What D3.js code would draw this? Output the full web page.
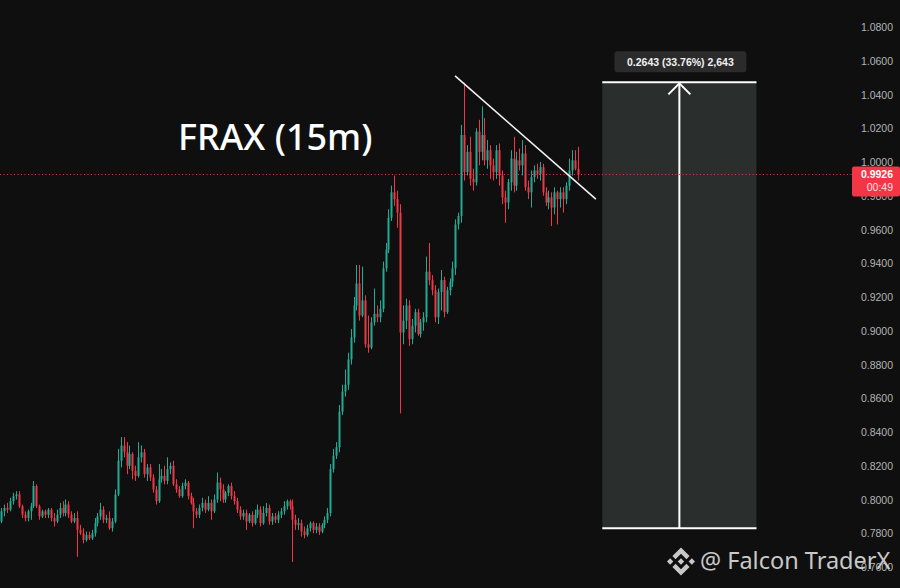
<!DOCTYPE html>
<html>
<head>
<meta charset="utf-8">
<script src="https://cdn.jsdelivr.net/npm/d3@7"></script>
<style>
  html, body { margin: 0; padding: 0; background: #0f0f0f; }
  svg { display: block; }
</style>
</head>
<body>
<svg id="chart" width="900" height="588"></svg>
<script>
// FRAX 15m candles (price in USD)
const opens = [
  .787,.793,.795,.794,.799,.802,.803,.796,.791,.789,
  .793,.796,.808,.796,.790,.793,.791,.794,.789,.787,
  .791,.795,.792,.797,.791,.787,.789,.782,.780,.776,
  .779,.777,.780,.786,.790,.794,.788,.789,.783,.787,
  .803,.823,.832,.828,.820,.827,.817,.814,.825,.828,
  .815,.819,.813,.806,.799,.812,.814,.811,.818,.820,
  .809,.806,.802,.808,.810,.802,.798,.793,.791,.795,
  .798,.794,.798,.793,.800,.810,.806,.800,.804,.808,
  .802,.799,.794,.790,.792,.787,.791,.786,.791,.794,
  .786,.792,.795,.787,.790,.788,.791,.793,.796,.799,
  .796,.788,.785,.786,.781,.779,.783,.786,.782,.784,
  .781,.785,.788,.792,.818,.826,.831,.852,.864,.868,
  .883,.896,.915,.928,.909,.918,.892,.890,.905,.910,
  .908,.913,.937,.948,.967,.982,.978,.970,.899,.906,
  .915,.895,.903,.911,.898,.905,.908,.935,.930,.924,
  .908,.923,.930,.911,.924,.929,.937,.963,.968,1.016,
  .994,1.006,.990,.988,1.018,1.006,1.016,1.001,1.007,.998,
  .994,1.007,.992,.979,.976,.988,1.002,.986,1.001,.998,
  1.005,.985,.982,.991,.995,.993,.997,.982,.976,.979,
  .973,.982,.978,.982,.978,.986,.995,1.001,.996
];
const highs = [
  .795,.797,.798,.801,.804,.805,.805,.797,.793,.794,
  .798,.811,.809,.797,.794,.794,.795,.795,.792,.794,
  .798,.799,.800,.799,.793,.792,.793,.785,.783,.781,
  .781,.782,.789,.792,.798,.796,.791,.793,.789,.806,
  .830,.837,.837,.834,.832,.828,.820,.834,.832,.830,
  .821,.821,.815,.808,.821,.818,.820,.825,.822,.823,
  .812,.808,.810,.812,.811,.804,.801,.795,.797,.801,
  .800,.802,.800,.803,.816,.813,.809,.805,.809,.810,
  .805,.801,.796,.794,.794,.792,.793,.794,.797,.796,
  .796,.798,.797,.792,.792,.793,.795,.799,.800,.800,
  .800,.791,.789,.788,.784,.785,.787,.787,.786,.786,
  .786,.790,.795,.821,.830,.834,.856,.868,.877,.887,
  .901,.920,.939,.939,.938,.921,.909,.908,.925,.915,
  .918,.941,.952,.972,.986,.992,.983,.975,.915,.919,
  .918,.907,.913,.913,.907,.911,.944,.952,.933,.927,
  .925,.936,.932,.926,.931,.941,.966,.970,1.022,1.047,
  1.010,1.015,.996,1.020,1.025,1.033,1.026,1.013,1.010,1.002,
  1.010,1.011,.995,.983,.990,1.007,1.015,1.006,1.008,1.013,
  1.010,.989,.995,.998,.999,1.000,.999,.985,.983,.982,
  .985,.983,.985,.985,.988,1.002,1.007,1.007,1.009
];
const lows = [
  .786,.790,.792,.793,.797,.800,.795,.789,.787,.787,
  .788,.795,.795,.788,.789,.789,.789,.787,.784,.786,
  .789,.790,.790,.789,.786,.786,.766,.779,.774,.775,
  .776,.776,.778,.784,.788,.786,.786,.782,.781,.786,
  .802,.819,.825,.815,.818,.812,.811,.813,.822,.813,
  .811,.811,.804,.797,.798,.810,.809,.809,.815,.808,
  .804,.801,.801,.806,.800,.797,.783,.789,.789,.793,
  .792,.793,.788,.792,.798,.799,.798,.798,.802,.800,
  .797,.792,.788,.788,.782,.786,.784,.785,.789,.784,
  .785,.790,.785,.785,.786,.786,.789,.791,.794,.794,
  .763,.782,.782,.778,.777,.778,.781,.780,.780,.779,
  .780,.783,.786,.790,.816,.824,.828,.850,.861,.865,
  .880,.893,.912,.906,.908,.890,.887,.889,.903,.905,
  .905,.911,.935,.946,.965,.974,.961,.851,.892,.901,
  .891,.892,.899,.897,.896,.900,.905,.927,.921,.905,
  .904,.912,.908,.910,.921,.926,.933,.960,.964,.989,
  .992,.986,.983,.986,.998,1.001,.998,.996,.990,.989,
  .990,.986,.975,.964,.972,.983,.982,.983,.995,.992,
  .983,.978,.973,.988,.990,.989,.980,.974,.972,.962,
  .969,.963,.973,.970,.975,.983,.992,.995,.989
];
const closes = [
  .793,.795,.794,.799,.802,.803,.796,.791,.789,.793,
  .796,.808,.796,.790,.793,.791,.794,.789,.787,.791,
  .795,.792,.797,.791,.787,.789,.782,.780,.776,.779,
  .777,.780,.786,.790,.794,.788,.789,.783,.787,.803,
  .823,.832,.828,.820,.827,.817,.814,.825,.828,.815,
  .819,.813,.806,.799,.812,.814,.811,.818,.820,.809,
  .806,.802,.808,.810,.802,.798,.793,.791,.795,.798,
  .794,.798,.793,.800,.810,.806,.800,.804,.808,.802,
  .799,.794,.790,.792,.787,.791,.786,.791,.794,.786,
  .792,.795,.787,.790,.788,.791,.793,.796,.799,.796,
  .788,.785,.786,.781,.779,.783,.786,.782,.784,.781,
  .785,.788,.792,.818,.826,.831,.852,.864,.868,.883,
  .896,.915,.928,.909,.918,.892,.890,.905,.910,.908,
  .913,.937,.948,.967,.982,.978,.970,.899,.906,.915,
  .895,.903,.911,.898,.905,.908,.935,.930,.924,.908,
  .923,.930,.911,.924,.929,.937,.963,.968,1.016,.994,
  1.006,.990,.988,1.018,1.006,1.016,1.001,1.007,.998,.994,
  1.007,.992,.979,.976,.988,1.002,.986,1.001,.998,1.005,
  .985,.982,.991,.995,.993,.997,.982,.976,.979,.973,
  .982,.978,.982,.978,.986,.995,1.001,.996,.9926
];

// Right price scale
const priceTicks = [0.76,0.78,0.80,0.82,0.84,0.86,0.88,0.90,0.92,0.94,0.96,0.98,1.00,1.02,1.04,1.06,1.08];
const lastPrice = 0.9926;
const countdown = "00:49";

// Descending trendline: [bar index, price]
const trendStart = [155.9, 1.051];
const trendEnd = [204.3, 0.978];

// Price range measurement: price bounds and bar span
const measureLow = 0.7829;
const measureHigh = 1.0472;
const measureBars = [206.5, 259.5];
const tickSize = 0.0001;

const title = "FRAX (15m)";
const watermark = "@ Falcon TraderX";

const UP = "#22ab94", DOWN = "#f23645";

const svg = d3.select("#chart");
svg.append("rect").attr("width", 900).attr("height", 588).attr("fill", "#0f0f0f");

const x = d3.scaleLinear().domain([-0.5, opens.length - 0.5]).range([0, 579]);
const y = d3.scaleLinear().domain([0.76, 1.08]).range([567, 27]);

// measurement box (behind candles' right side)
const mx0 = x(measureBars[0]), mx1 = x(measureBars[1]);
const myTop = y(measureHigh), myBot = y(measureLow);
const mg = svg.append("g");
mg.append("rect").attr("x", mx0).attr("y", myTop).attr("width", mx1 - mx0).attr("height", myBot - myTop)
  .attr("fill", "#2a2e2c");
mg.append("line").attr("x1", mx0).attr("x2", mx1).attr("y1", myTop).attr("y2", myTop)
  .attr("stroke", "#fff").attr("stroke-width", 2);
mg.append("line").attr("x1", mx0).attr("x2", mx1).attr("y1", myBot).attr("y2", myBot)
  .attr("stroke", "#fff").attr("stroke-width", 2);
const mcx = (mx0 + mx1) / 2;
mg.append("line").attr("x1", mcx).attr("x2", mcx).attr("y1", myBot).attr("y2", myTop + 1)
  .attr("stroke", "#fff").attr("stroke-width", 2);
mg.append("path").attr("d", `M${mcx - 11},${myTop + 12}L${mcx},${myTop + 1}L${mcx + 11},${myTop + 12}`)
  .attr("fill", "none").attr("stroke", "#fff").attr("stroke-width", 2);

const diff = measureHigh - measureLow;
const pct = diff / measureLow * 100;
const ticks = Math.round(diff / tickSize);
const mLabel = `${diff.toFixed(4)} (${pct.toFixed(2)}%) ${d3.format(",")(ticks)}`;
const lw = 132, lh = 21;
mg.append("rect").attr("x", mcx + 1 - lw / 2).attr("y", myTop - 31).attr("width", lw).attr("height", lh)
  .attr("rx", 3).attr("fill", "#2b2b2b");
mg.append("text").attr("x", mcx + 1).attr("y", myTop - 16.5).attr("text-anchor", "middle")
  .attr("font-family", "Liberation Sans, Arial, sans-serif").attr("font-size", 10.5).attr("font-weight", "bold")
  .attr("fill", "#f0f0f0").text(mLabel);

// last price dotted line
svg.append("line").attr("x1", 0).attr("x2", 852).attr("y1", y(lastPrice)).attr("y2", y(lastPrice))
  .attr("stroke", DOWN).attr("stroke-width", 1).attr("stroke-dasharray", "1,2.5");

// candles
const idx = d3.range(opens.length);
const cg = svg.append("g");
cg.selectAll("line.wick").data(idx).join("line")
  .attr("x1", i => Math.round(x(i)) + 0.5).attr("x2", i => Math.round(x(i)) + 0.5)
  .attr("y1", i => y(highs[i])).attr("y2", i => y(lows[i]))
  .attr("stroke", i => closes[i] >= opens[i] ? UP : DOWN).attr("stroke-width", 1);
cg.selectAll("rect.body").data(idx).join("rect")
  .attr("x", i => Math.round(x(i)) - 0.5)
  .attr("width", 2)
  .attr("y", i => y(Math.max(opens[i], closes[i])))
  .attr("height", i => Math.max(1, Math.abs(y(opens[i]) - y(closes[i]))))
  .attr("fill", i => closes[i] >= opens[i] ? UP : DOWN);

// trendline
svg.append("line")
  .attr("x1", x(trendStart[0])).attr("y1", y(trendStart[1]))
  .attr("x2", x(trendEnd[0])).attr("y2", y(trendEnd[1]))
  .attr("stroke", "#f2f2f2").attr("stroke-width", 1.6);

// title
svg.append("text").attr("x", 178).attr("y", 150)
  .attr("font-family", "Noto Sans, Open Sans, sans-serif").attr("font-size", 36).attr("font-weight", 500)
  .attr("fill", "#ffffff").text(title);

// price axis
const axis = d3.axisRight(y).tickValues(priceTicks).tickFormat(d3.format(".4f")).tickSize(0);
const ag = svg.append("g").attr("transform", "translate(893,0)").call(axis);
ag.select(".domain").remove();
ag.selectAll("text").attr("x", 0).attr("text-anchor", "end").attr("dy", "0.35em")
  .attr("font-family", "Liberation Sans, Arial, sans-serif").attr("font-size", 10.5).attr("fill", "#b4b4b4");

// last price badge
const py = y(lastPrice);
svg.append("rect").attr("x", 852).attr("y", py - 8).attr("width", 48).attr("height", 30).attr("rx", 2).attr("fill", DOWN);
svg.append("text").attr("x", 893).attr("y", py + 4).attr("text-anchor", "end")
  .attr("font-family", "Liberation Sans, Arial, sans-serif").attr("font-size", 10.5).attr("font-weight", "bold")
  .attr("fill", "#ffffff").text(lastPrice.toFixed(4));
svg.append("text").attr("x", 893).attr("y", py + 17).attr("text-anchor", "end")
  .attr("font-family", "Liberation Sans, Arial, sans-serif").attr("font-size", 10.5)
  .attr("fill", "#ffe3e5").text(countdown);

// watermark
const wm = svg.append("g").attr("fill", "#d8d8d8").attr("opacity", 0.92);
const logo = wm.append("g").attr("transform", "translate(667,547.5) scale(0.221)");
[
  "M38.73,53.2L63.3,28.63L87.89,53.22L102.19,38.91L63.3,0L24.42,38.9Z",
  "M0,63.31L14.3,49L28.61,63.31L14.3,77.61Z",
  "M38.73,73.41L63.3,98L87.89,73.42L102.2,87.71L63.3,126.61L24.42,87.73Z",
  "M98,63.31L112.3,49L126.61,63.31L112.3,77.61Z",
  "M77.83,63.3L63.3,48.76L48.78,63.28L63.3,77.83Z"
].forEach(d => logo.append("path").attr("d", d));
wm.append("text").attr("x", 700).attr("y", 569)
  .attr("font-family", "Noto Sans, Open Sans, sans-serif").attr("font-size", 23.5)
  .text(watermark);
</script>
</body>
</html>
